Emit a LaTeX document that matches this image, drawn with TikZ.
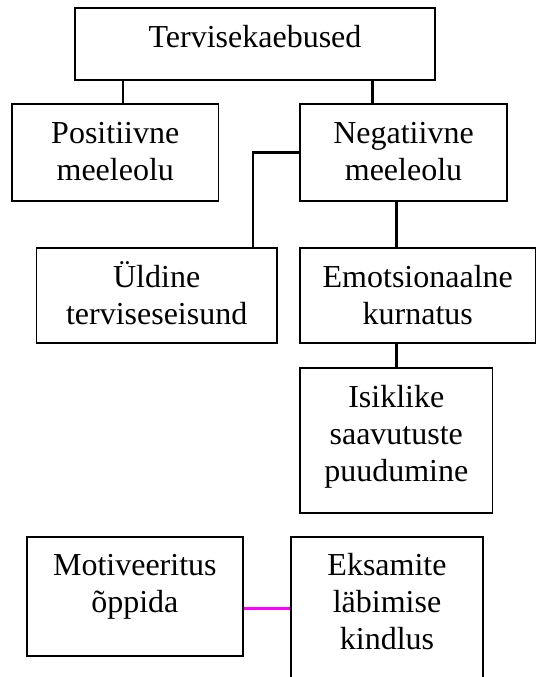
\documentclass[tikz,border=0pt]{standalone}
\usepackage{fontspec}
\setmainfont{Liberation Serif}
\definecolor{magline}{RGB}{255,0,255}
\tikzset{
  box/.style={draw=black, line width=1.7pt, inner sep=0pt, minimum width=#1},
  lbl/.style={inner sep=0pt, align=center, anchor=north, font=\fontsize{32}{37}\selectfont},
  conn/.style={draw=black, line width=2.6pt},
  magconn/.style={draw=magline, line width=2.6pt}
}
\begin{document}
\begin{tikzpicture}[x=1pt,y=-1pt]
\clip (0,0) rectangle (537,677);
\fill[white] (0,0) rectangle (537,677);
% boxes
\node[box=360pt, minimum height=71.7pt] (top) at (255,44.2) {};
\node[box=206.5pt, minimum height=96.7pt] (pos) at (115.25,152.35) {};
\node[box=207pt, minimum height=96.7pt] (neg) at (403.5,152.35) {};
\node[box=240.1pt, minimum height=95pt] (uld) at (156.65,295.5) {};
\node[box=235.5pt, minimum height=95pt] (emo) at (417.75,295.5) {};
\node[box=192.5pt, minimum height=144.4pt] (isi) at (396.25,440.5) {};
\node[box=216.3pt, minimum height=119.3pt] (mot) at (134.85,596.35) {};
\node[box=192pt, minimum height=180pt] (eks) at (387,626.7) {};
% labels
\node[lbl] (topt) at ([yshift=-14pt]top.north) {\strut Tervisekaebused};
\node[lbl] (post) at ([yshift=-14pt]pos.north) {\strut Positiivne\\meeleolu};
\node[lbl] (negt) at ([yshift=-14pt]neg.north) {\strut Negatiivne\\meeleolu};
\node[lbl] (uldt) at ([yshift=-14pt]uld.north) {\strut Üldine\\terviseseisund};
\node[lbl] (emot) at ([yshift=-14pt]emo.north) {\strut Emotsionaalne\\kurnatus};
\node[lbl] (isit) at ([yshift=-14pt]isi.north) {\strut Isiklike\\saavutuste\\puudumine};
\node[lbl] (mott) at ([yshift=-14pt]mot.north) {\strut Motiveeritus\\õppida};
\node[lbl] (ekst) at ([yshift=-14pt]eks.north) {\strut Eksamite\\läbimise\\kindlus};
% connectors
\draw[conn] ([xshift=7.75pt]pos.north) -- ([xshift=7.75pt]pos.north |- top.south);
\draw[conn] ([xshift=-30.9pt]neg.north) -- ([xshift=-30.9pt]neg.north |- top.south);
\draw[conn] (neg.west) -| ([xshift=96.4pt]uld.north);
\draw[conn] ([xshift=-6.9pt]neg.south) -- ([xshift=-6.9pt]neg.south |- emo.north);
\draw[conn] (isi.north) -- (isi.north |- emo.south);
\draw[magconn] ([yshift=-12pt]mot.east) -- ([yshift=-12pt]mot.east -| eks.west);
\end{tikzpicture}
\end{document}
